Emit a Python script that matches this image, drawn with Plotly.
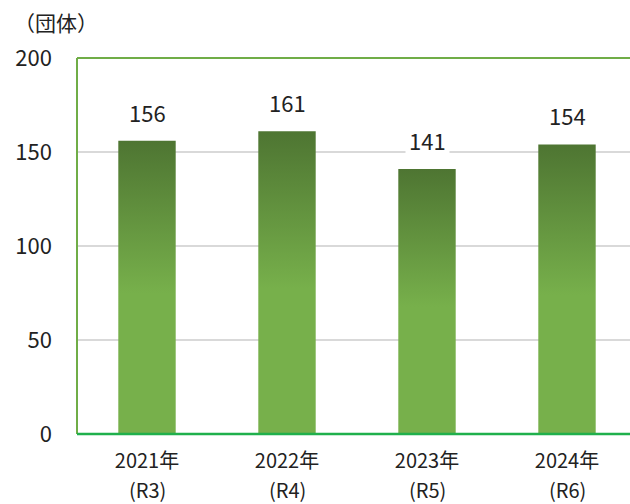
import plotly.graph_objects as go

# Number of organisations per year
years = ["2021年", "2022年", "2023年", "2024年"]
eras = ["(R3)", "(R4)", "(R5)", "(R6)"]
counts = [156, 161, 141, 154]
y_ticks = [0, 50, 100, 150, 200]

FONT = "Noto Sans CJK JP"
FS = 22
FS_X = 20
TXT = "#222222"
LIGHT = "#77B04B"
DARK = "#4E7532"
BAR_W = 0.41

fig = go.Figure()

# Bars as filled rectangles so each one can carry a vertical gradient
for i, v in enumerate(counts):
    x0, x1 = i - BAR_W / 2, i + BAR_W / 2
    fig.add_trace(go.Scatter(
        x=[x0, x1, x1, x0, x0],
        y=[0, 0, v, v, 0],
        mode="none",
        fill="toself",
        fillgradient=dict(
            type="vertical",
            start=0,
            stop=v,
            colorscale=[[0, LIGHT], [0.48, LIGHT], [1, DARK]],
        ),
        hoverinfo="skip",
        showlegend=False,
    ))
    fig.add_annotation(
        x=i, y=v, xref="x", yref="y",
        text=str(v), showarrow=False,
        yanchor="bottom", yshift=9,
        bgcolor="white", borderpad=3,
        font=dict(family=FONT, size=FS, color=TXT),
    )
    # era name under the year tick label
    fig.add_annotation(
        x=i, y=0, xref="x", yref="paper",
        text=eras[i], showarrow=False,
        yanchor="middle", yshift=-55,
        font=dict(family=FONT, size=FS_X, color=TXT),
    )

fig.update_xaxes(
    range=[-0.5, 3.45],
    tickvals=list(range(len(years))),
    ticktext=years,
    showgrid=False, zeroline=False,
    showline=False,
    ticks="", ticklabelstandoff=13,
    tickfont=dict(family=FONT, size=FS_X, color=TXT),
)
fig.update_yaxes(
    range=[0, 200],
    tickvals=y_ticks,
    showgrid=True, gridcolor="#D9D9D9", gridwidth=1.5,
    zeroline=False, showline=False,
    ticks="", ticklabelstandoff=24,
    tickfont=dict(family=FONT, size=FS, color=TXT),
)

# Plot-area frame: green left and top edges, brighter green baseline
fig.add_shape(type="line", xref="paper", yref="paper", x0=0, x1=0, y0=0, y1=1,
              line=dict(color="#70AD47", width=2))
fig.add_shape(type="line", xref="paper", yref="paper", x0=0, x1=1, y0=1, y1=1,
              line=dict(color="#70AD47", width=2))
fig.add_shape(type="line", xref="paper", yref="paper", x0=0, x1=1, y0=0, y1=0,
              line=dict(color="#1FB04C", width=2.5))

# Unit label
fig.add_annotation(
    x=0, y=1, xref="paper", yref="paper",
    xanchor="left", yanchor="top",
    xshift=-77 + 12, yshift=58 - 5,
    text="（団体）", showarrow=False,
    font=dict(family=FONT, size=21, color=TXT),
)

fig.update_layout(
    width=630, height=504,
    margin=dict(l=77, r=0, t=58, b=70),
    paper_bgcolor="white", plot_bgcolor="white",
    font=dict(family=FONT, color=TXT),
    showlegend=False,
)

fig.write_html("out.html")
